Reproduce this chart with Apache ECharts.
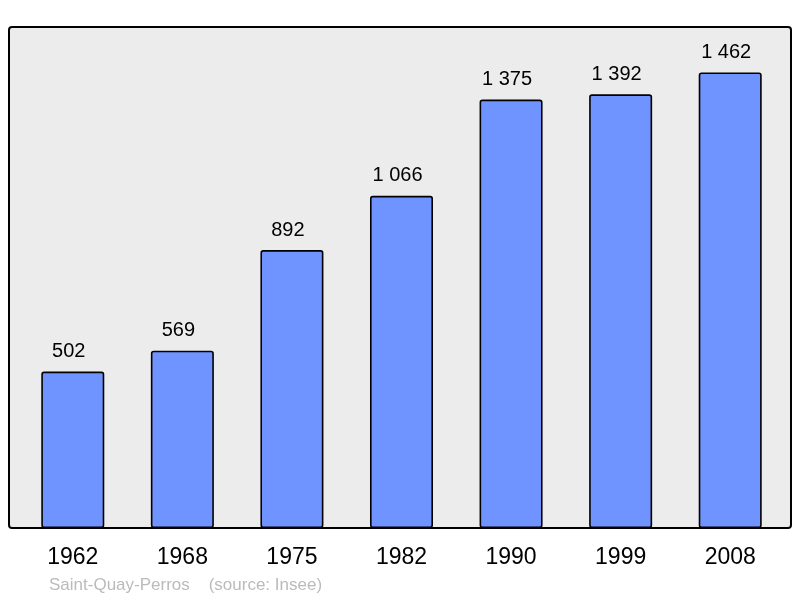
<!DOCTYPE html>
<html><head><meta charset="utf-8">
<script src="https://cdn.jsdelivr.net/npm/echarts@6/dist/echarts.min.js"></script>
<style>html,body{margin:0;padding:0;background:#fff}#c{width:800px;height:598px}</style>
</head><body><div id="c"></div>
<script>
const years = ['1962','1968','1975','1982','1990','1999','2008'];
const population = [502, 569, 892, 1066, 1375, 1392, 1462];
const footerText = 'Saint-Quay-Perros    (source: Insee)';

const fmt = v => String(v).replace(/\B(?=(\d{3})+(?!\d))/g, ' ');
const chart = echarts.init(document.getElementById('c'), null, {renderer: 'canvas'});
chart.setOption({
  animation: false,
  backgroundColor: '#ffffff',
  textStyle: {fontFamily: 'Liberation Sans, Arial, sans-serif'},
  graphic: [
    {type: 'rect', z: -10, shape: {x: 9, y: 27, width: 782, height: 501, r: 3},
     style: {fill: '#ececec', stroke: '#000', lineWidth: 2}},
    {type: 'text', left: 49, top: 577,
     style: {text: footerText, fill: '#bbbbbb', font: '17px "Liberation Sans", Arial, sans-serif'}}
  ],
  grid: {left: 18, right: 15, top: 27, bottom: 70, containLabel: false},
  xAxis: {
    type: 'category', data: years,
    axisLine: {show: false}, axisTick: {show: false},
    axisLabel: {color: '#000', fontSize: 23, margin: 18}
  },
  yAxis: {
    type: 'value', min: 0, max: 1608,
    show: false, splitLine: {show: false}
  },
  series: [{
    type: 'bar', data: population, barWidth: '57.5%',
    itemStyle: {color: '#7094ff', borderColor: '#000', borderWidth: 1.6, borderRadius: 2},
    label: {show: true, position: 'top', distance: 10, offset: [-4, 0], color: '#000', fontSize: 20,
      formatter: p => fmt(p.value)}
  }]
});
</script></body></html>
